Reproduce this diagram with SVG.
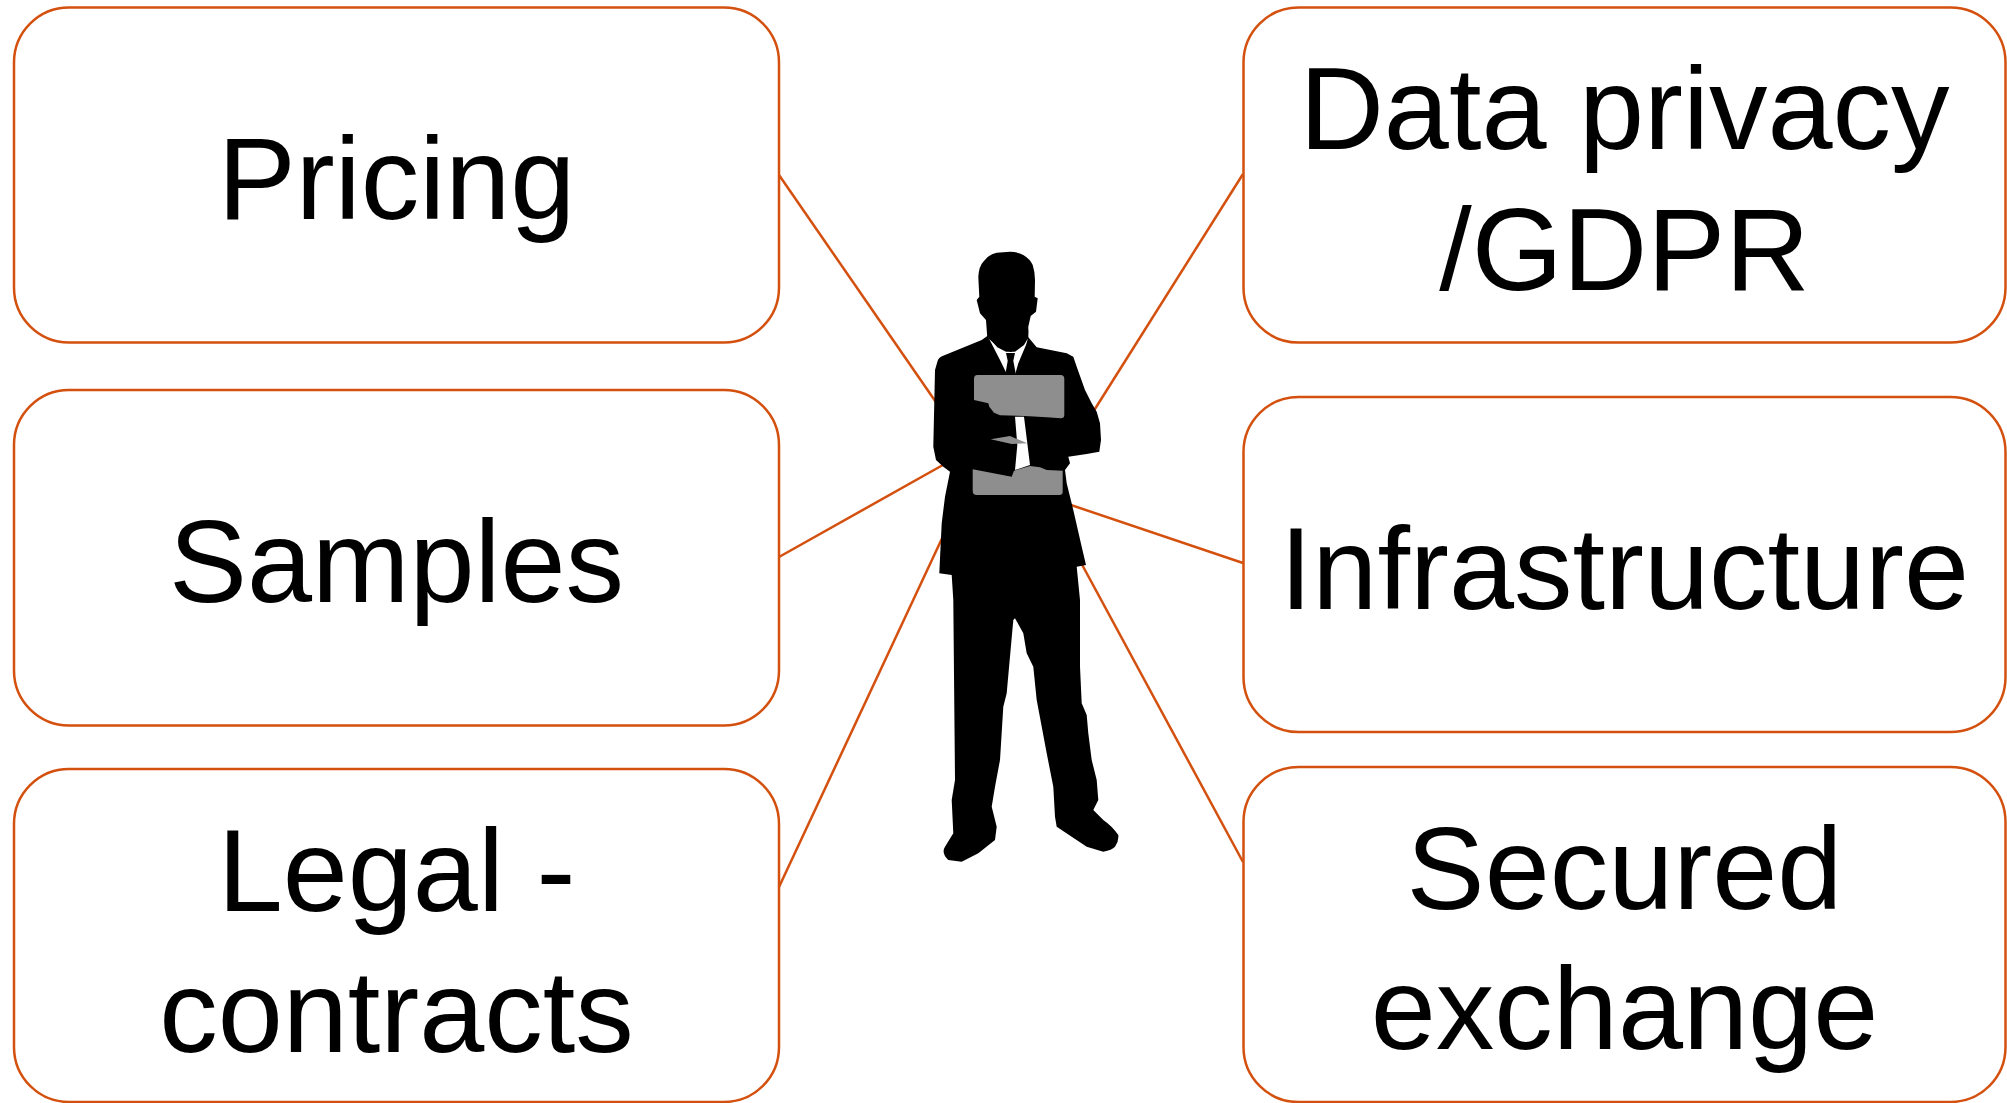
<svg xmlns="http://www.w3.org/2000/svg" width="2007" height="1103" viewBox="0 0 2007 1103">
  <style>
    .box { fill: #ffffff; stroke: #D4500E; stroke-width: 2.5; }
    .lbl { font-family: "Liberation Sans", Arial, sans-serif; font-size: 117px; fill: #000000; text-anchor: middle; }
    .link { stroke: #D4500E; stroke-width: 2.5; fill: none; }
  </style>
  <rect width="2007" height="1103" fill="#ffffff"/>

  <!-- connectors from each topic box to the central figure -->
  <g id="connectors">
    <line class="link" x1="779" y1="175" x2="940" y2="408"/>
    <line class="link" x1="779" y1="557" x2="950" y2="461"/>
    <line class="link" x1="779" y1="887" x2="945" y2="532"/>
    <line class="link" x1="1243" y1="174" x2="1088" y2="420"/>
    <line class="link" x1="1243" y1="563" x2="1065" y2="503"/>
    <line class="link" x1="1243" y1="862" x2="1066" y2="535"/>
  </g>

  <!-- left column -->
  <g id="pricing">
    <rect class="box" x="14" y="7.5" width="765" height="335" rx="55" ry="55"/>
    <text class="lbl" x="396.5" y="219">Pricing</text>
  </g>
  <g id="samples">
    <rect class="box" x="14" y="390" width="765" height="335.5" rx="55" ry="55"/>
    <text class="lbl" x="396.5" y="602">Samples</text>
  </g>
  <g id="legal">
    <rect class="box" x="14" y="769" width="765" height="333" rx="55" ry="55"/>
    <text class="lbl" x="396.5" y="911">Legal -</text>
    <text class="lbl" x="396.5" y="1052">contracts</text>
  </g>

  <!-- right column -->
  <g id="data-privacy">
    <rect class="box" x="1243.5" y="7.5" width="762" height="335" rx="55" ry="55"/>
    <text class="lbl" x="1624.5" y="149">Data privacy</text>
    <text class="lbl" x="1624.5" y="290">/GDPR</text>
  </g>
  <g id="infrastructure">
    <rect class="box" x="1243.5" y="397" width="762" height="335" rx="55" ry="55"/>
    <text class="lbl" x="1624.5" y="609">Infrastructure</text>
  </g>
  <g id="secured-exchange">
    <rect class="box" x="1243.5" y="767" width="762" height="335" rx="55" ry="55"/>
    <text class="lbl" x="1624.5" y="909">Secured</text>
    <text class="lbl" x="1624.5" y="1049">exchange</text>
  </g>

  <!-- businessman silhouette holding a folder -->
  <g id="person">
    <!-- head -->
    <path fill="#000" d="M987.3,338 L986,320 L980,313.3 L976.7,300 L979.3,296.7 L978.3,276.7 Q979,266 983.3,261.7 Q989,254 996.7,252.7 L1010,251.7 Q1018,252 1023.3,255 Q1030,259 1032.7,265 Q1035,272 1035,280 L1034.7,296.7 L1037.7,298.3 L1036,311.7 L1030.7,316 L1028.3,326.7 L1028.3,338 Z"/>
    <!-- torso, arms and legs -->
    <path fill="#000" d="M987.3,336 L981.7,340 L945,355 Q938,357 937.3,362 L935,370 L933.3,446.7 L936,460 L943.3,466.7 L950,471.7 L945,496.7 L941.7,523.3 L939.3,573.3 L951.7,575
      L953.3,600 L955,780 L951.7,800 L953.3,833.3 L945,846.7 Q941,853 948.3,860 L961.7,861.7 L978.3,853.3 L995,840 L996.7,826.7 L991.7,806.7 L995,786.7 L1000,760 L1003.3,706.7 L1006.7,693.3 L1013.3,620 L1015,618.3 L1023.3,633.3 L1026.7,653.3 L1033.3,666.7 L1036.7,700 L1046.7,753.3 L1053.3,786.7 L1055,816.7 L1056.7,826.7 L1086.7,846.7 L1103.3,851.7 Q1112,850 1115,846.7 Q1119,841 1118.3,835 Q1112,826 1103.3,820 L1093.3,810 L1098.3,800 L1096.7,780 L1091.7,760 L1088.3,733.3 L1086.7,715 L1081.7,703.3 L1080,666.7 L1080,600
      L1076.7,566.7 L1086,565 L1081.7,546.7 L1073.3,510 L1066.7,483.3 L1065,470 L1070,463.3 L1068.3,456.7 L1086.7,454 L1099.3,451.7 L1101,440 L1100,423.3 L1096.7,411.7 L1091.7,403.3 L1085,390 L1076.7,366.7 L1073.3,356.7 L1066.7,353.3 L1036.7,347.3 L1028.3,337.3 Z"/>
    <!-- shirt collar -->
    <path fill="#fff" d="M988.3,337.3 L997.3,347.3 L1006,351.7 L1015,351.7 L1024,345 L1028,338.3 L1026,345 L1018.3,363.3 L1015,375 L1007.3,375 L1000,360 Z"/>
    <!-- neck and chin shadow over the collar -->
    <path fill="#000" d="M987.3,330 L1028.3,330 L1028,338 L1021,346 L1011,352 L1000,348 L989,339 Z"/>
    <!-- tie -->
    <path fill="#000" d="M1006,353 L1015,353 L1013.3,360.7 L1016,375 L1005.3,375 L1007.7,360.7 Z"/>
    <path fill="#fff" d="M1015,416.7 L1024,416.7 L1027.3,443.3 L1030,465 L1015,470 L1017.3,445 Z"/>
    <!-- folder -->
    <path fill="#8E8E8E" d="M977.3,375 L1060.7,375 Q1064.3,375 1064.3,379 L1064.3,415 Q1064.3,418.3 1060.7,418.3 L1046.7,417.3 L1025,416 L1000,415.3 L994,412.7 L989.3,406.7 L988.3,403.3 L974,400 L974,379 Q974,375 977.3,375 Z"/>
    <path fill="#8E8E8E" d="M990.7,439.3 L1010,436 L1027.3,443.3 L1011.7,444 Z"/>
    <path fill="#8E8E8E" d="M972.7,469.3 L1011.7,476.7 L1014,470.7 L1030,466 L1040,467.3 L1046.7,470 L1062.7,470.7 L1062.7,491.7 Q1062.7,495 1059.3,495 L976.7,495 Q972.7,495 972.7,490.7 Z"/>
  </g>
</svg>
